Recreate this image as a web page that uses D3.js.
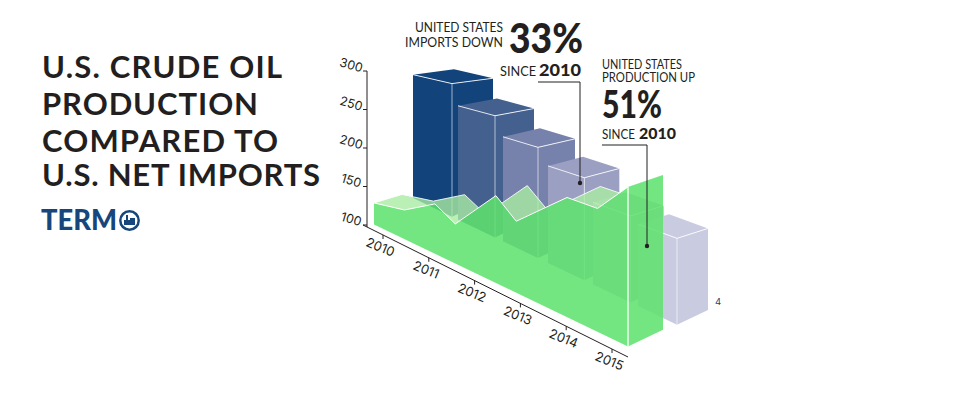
<!DOCTYPE html>
<html><head><meta charset="utf-8">
<script src="https://cdn.jsdelivr.net/npm/d3@7"></script>
<style>html,body{margin:0;padding:0;background:#fff}svg{display:block}text{font-family:Lato,sans-serif;fill:#231f20}</style>
</head><body><svg id="c" width="960" height="395"></svg>
<script>
const years = [2010, 2011, 2012, 2013, 2014, 2015];
const importValues = [262, 237, 216, 200, 179, 174];
const barColors = ["#12437b", "#44608f", "#7682ac", "#9b9fc2", "#b5b8d2", "#c9cce0"];
const yTicks = [100, 150, 200, 250, 300];
const productionYears = [2010, 2010.6, 2011.2, 2011.6, 2012.4, 2012.8, 2013.8, 2014.4, 2015];
const productionValues = [125, 132, 152, 140, 183, 166, 203, 202, 227];
const titleLines = ["U.S. CRUDE OIL", "PRODUCTION", "COMPARED TO", "U.S. NET IMPORTS"];

const svg = d3.select("#c");
const y = d3.scaleLinear().domain([100, 300]).range([225, 71]);
const axisX = d3.scaleLinear().domain([2010, 2015]).range([383, 612]);
const axisYAt = d3.scaleLinear().domain([367, 628]).range([227, 357]);
const barLeft = d3.scaleLinear().domain([0, 5]).range([-5, 220]);
const barFront = d3.scaleLinear().domain([0, 2, 5]).range([34, 120, 259]);
const barDepth = d3.scaleLinear().domain([0, 5]).range([41, 31]);
const ribbonT = d3.scaleLinear().domain([2010, 2015]).range([3, 257]);
const ribbonDepth = d3.scaleLinear().domain([3, 257]).range([28, 35]);

const BAR_D = 51, RIB_D = 4;
const floor = (t, d) => [367 + t + d, 225 + 0.48 * (t - d)];
const persp = (t, d) => 1 + 0.002 * t - (d > BAR_D ? 0.0028 : 0.0025) * (d - BAR_D);
const proj = (t, d, v) => { const f = floor(t, d); return [f[0], f[1] - (y(100) - y(v)) * persp(t, d)]; };
const line = d3.line();
const poly = pts => line(pts) + "Z";

// bars
importValues.forEach((v, i) => {
  const tl = barLeft(i), tf = barFront(i), dn = BAR_D, df = BAR_D + barDepth(i);
  const g = svg.append("g");
  const c = barColors[i];
  const b = (t, d) => proj(t, d, 100), h = (t, d) => proj(t, d, v);
  g.append("path").attr("d", poly([h(tl, dn), b(tl, dn), b(tf, dn), h(tf, dn)])).attr("fill", c);
  g.append("path").attr("d", poly([h(tf, dn), b(tf, dn), b(tf, df), h(tf, df)])).attr("fill", c);
  g.append("path").attr("d", poly([h(tl, dn), h(tf, dn), h(tf, df), h(tl, df)])).attr("fill", c);
  g.append("path").attr("d", line([h(tl, dn), h(tf, dn), h(tf, df)])).attr("fill", "none").attr("stroke", "#fff").attr("stroke-opacity", .85).attr("stroke-width", 1);
  g.append("path").attr("d", line([h(tf, dn), b(tf, dn)])).attr("fill", "none").attr("stroke", "#fff").attr("stroke-opacity", .6).attr("stroke-width", 1);
});

// ribbon
const F = productionYears.map((yr, i) => proj(ribbonT(yr), RIB_D, productionValues[i]));
const B = productionYears.map((yr, i) => {
  const dd = ribbonDepth(ribbonT(yr)), p = F[i];
  return [p[0] + dd, p[1] - 0.48 * dd + 5];
});
const bl = floor(ribbonT(2010), RIB_D), br = floor(ribbonT(2015), RIB_D);
const endD = ribbonDepth(ribbonT(2015));
const br2 = [br[0] + endD, br[1] - 0.48 * endD];
const wall = poly([...F, br, bl]);
const end = poly([F[F.length - 1], B[B.length - 1], br2, br]);

const mask = svg.append("defs").append("mask").attr("id", "hide").attr("maskUnits", "userSpaceOnUse")
  .attr("x", 0).attr("y", 0).attr("width", 960).attr("height", 395);
mask.append("rect").attr("width", 960).attr("height", 395).attr("fill", "#fff");
mask.append("path").attr("d", wall).attr("fill", "#000");
mask.append("path").attr("d", end).attr("fill", "#000");

const topG = svg.append("g").attr("mask", "url(#hide)");
topG.append("path").attr("d", poly([...F, ...B.slice().reverse()])).attr("fill", "#a9eca3").attr("fill-opacity", .8);
topG.append("path").attr("d", line([F[0], B[0], ...B.slice(1)])).attr("fill", "none").attr("stroke", "#fff").attr("stroke-opacity", .85);
svg.append("path").attr("d", wall).attr("fill", "#5fe26e").attr("fill-opacity", .87);
svg.append("path").attr("d", end).attr("fill", "#5fe26e").attr("fill-opacity", .87);
svg.append("path").attr("d", line(F)).attr("fill", "none").attr("stroke", "#fff").attr("stroke-width", 1);
svg.append("path").attr("d", line([F[F.length - 1], br])).attr("fill", "none").attr("stroke", "#fff").attr("stroke-width", 1.3);

// axes
const ink = "#231f20";
const tickFont = "font-family:Inter,sans-serif;font-weight:400";
svg.append("line").attr("x1", 367).attr("x2", 367).attr("y1", y(300)).attr("y2", 227).attr("stroke", ink).attr("stroke-width", 1);
svg.append("line").attr("x1", 363).attr("x2", 628).attr("y1", axisYAt(363)).attr("y2", axisYAt(628)).attr("stroke", ink).attr("stroke-width", 1);
yTicks.forEach(v => {
  svg.append("line").attr("x1", 363).attr("x2", 367).attr("y1", y(v)).attr("y2", y(v)).attr("stroke", ink);
  svg.append("text").text(v).attr("font-size", 12.5).attr("text-anchor", "middle").attr("dominant-baseline", "middle")
    .attr("style", tickFont)
    .attr("transform", `translate(351,${y(v) - 5}) rotate(16)`);
});
years.forEach(yr => {
  const x = axisX(yr), yy = axisYAt(x);
  svg.append("line").attr("x1", x).attr("x2", x).attr("y1", yy).attr("y2", yy + 4).attr("stroke", ink);
  svg.append("text").text(yr).attr("font-size", 13).attr("text-anchor", "middle").attr("dominant-baseline", "middle")
    .attr("style", tickFont)
    .attr("transform", `translate(${x - 3},${yy + 13}) rotate(22)`);
});
svg.append("text").text("4").attr("x", 718).attr("y", 305).attr("text-anchor", "middle").attr("font-size", 9.5).attr("style", "fill:#16477c;font-family:Inter,sans-serif");

// title
[[78, 240], [115, 216], [152, 236], [186, 278]].forEach(([by, w], i) => {
  svg.append("text").text(titleLines[i]).attr("x", 42).attr("y", by).attr("font-size", 31).attr("font-weight", 700)
    .attr("textLength", w).attr("lengthAdjust", "spacing");
});

// logo
const logo = svg.append("g");
logo.append("text").text("TERM").attr("x", 41).attr("y", 230).attr("font-size", 28).attr("font-weight", 900)
  .attr("textLength", 76).attr("lengthAdjust", "spacingAndGlyphs").attr("style", "fill:#16477c");
logo.append("circle").attr("cx", 129.5).attr("cy", 220.5).attr("r", 9.2).attr("fill", "none").attr("stroke", "#16477c").attr("stroke-width", 2.5);
logo.append("path").attr("d", "M124 225V220h2v-5h2v5h2v-2h5v7Z").attr("fill", "#16477c");

// annotations
const T = (s, x, yy, size, weight, len) => svg.append("text").text(s).attr("x", x).attr("y", yy).attr("font-size", size).attr("font-weight", weight)
    .attr("textLength", len).attr("lengthAdjust", "spacingAndGlyphs");
T("UNITED STATES", 415, 32, 13, 400, 88);
T("IMPORTS DOWN", 405, 47, 13, 400, 98);
T("33%", 509, 53, 41, 900, 74);
T("SINCE", 500, 76, 13.5, 400, 36);
T("2010", 539, 76, 16.5, 900, 42);
T("UNITED STATES", 602, 69, 12.5, 400, 80);
T("PRODUCTION UP", 602, 82, 12.5, 400, 93);
T("51%", 602, 118, 37, 900, 60);
T("SINCE", 602, 139, 12.5, 400, 33);
T("2010", 639, 139, 15.5, 900, 37);

const leader = (pts) => {
  svg.append("path").attr("d", line(pts)).attr("fill", "none").attr("stroke", ink).attr("stroke-width", 1);
  const e = pts[pts.length - 1];
  svg.append("circle").attr("cx", e[0]).attr("cy", e[1]).attr("r", 2.2).attr("fill", ink);
};
leader([[538, 82], [580, 82], [580, 183]]);
leader([[602, 145], [647, 145], [647, 246]]);
</script></body></html>
